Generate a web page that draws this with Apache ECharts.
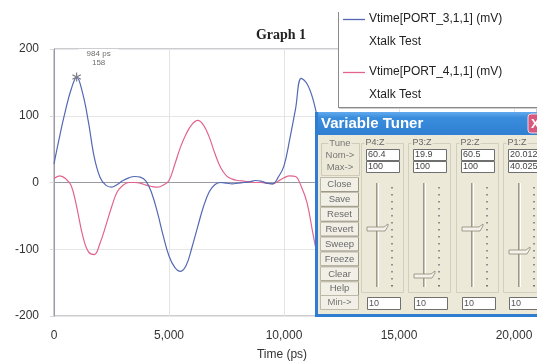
<!DOCTYPE html>
<html>
<head>
<meta charset="utf-8">
<script src="https://cdn.jsdelivr.net/npm/echarts@6/dist/echarts.min.js"></script>
<style>
  html, body { margin: 0; padding: 0; background: #fff; }
  #chart { width: 537px; height: 361px; }
</style>
</head>
<body>
<div id="chart"></div>
<script>
// Transient crosstalk waveforms (time in ps, voltage in mV)
const timePs = [0, 250, 500, 750, 984, 1250, 1500, 1750, 2000, 2250, 2500, 2750, 3000, 3250, 3500, 3750,
  4000, 4250, 4500, 4750, 5000, 5250, 5500, 5750, 6000, 6250, 6500, 6750, 7000, 7250, 7500, 7750,
  8000, 8250, 8500, 8750, 9000, 9250, 9500, 9750, 10000, 10250, 10500, 10750, 11000, 11250, 11500];
const port3 = [28, 70, 108, 140, 158, 133, 90, 38, 8, -4, -7, -3, 3, 7, 9, 8,
  2, -16, -45, -80, -110, -127, -133, -124, -97, -66, -36, -14, -3, 0, -1, -2,
  -1, 0, 1, 3, 2, -1, -2, 8, 25, 65, 110, 156, 148, 126, 88];
const port4 = [6, 10, 6, -5, -36, -80, -104, -108, -91, -65, -37, -14, -4, 0, 0, -1,
  -4, -6, -7, -4, 3, 27, 53, 73, 87, 93, 86, 68, 43, 22, 10, 5,
  3, 2, 1, 0, 0, -1, -2, 2, 7, 10, 9, -6, -30, -75, -120];

const seriesNames = ['Vtime[PORT_3,1,1] (mV)', 'Vtime[PORT_4,1,1] (mV)'];
const seriesSubtitle = 'Xtalk Test';
const seriesColors = ['#5468b4', '#e2648e'];
const markerIndex = 4; // sample carrying the cursor readout

// Variable Tuner panel contents
const tunerParams = ['P4:Z', 'P3:Z', 'P2:Z', 'P1:Z'];
const tunerNom = [60.4, 19.9, 60.5, 20.0125];
const tunerMax = [100, 100, 100, 40.025];
const tunerMin = [10, 10, 10, 10];
const tunerButtons = ['Close', 'Save', 'Reset', 'Revert', 'Sweep', 'Freeze', 'Clear', 'Help'];

const pairs = (ys) => timePs.map((t, i) => [t, ys[i]]);

const SANS = 'Liberation Sans, Arial, sans-serif';
const BODY = '#ece9d8';

// Star-shaped cursor symbol (three crossing bars)
const asterisk = 'path://M-0.6,-5L0.6,-5L0.6,5L-0.6,5Z' +
  'M4.03,3.02L4.63,1.98L-4.03,-3.02L-4.63,-1.98Z' +
  'M-4.63,1.98L-4.03,3.02L4.63,-1.98L4.03,-3.02Z';

// Stack a list of graphic elements above the plot, keeping their order
const layered = (els, base) => els.map((e, k) => Object.assign(e, { z: base, z2: k }));

function legendBox() {
  const els = [
    { type: 'rect', shape: { x: 338, y: 10, width: 220, height: 97 }, style: { fill: '#fff' } },
    { type: 'line', shape: { x1: 338.5, y1: 12, x2: 338.5, y2: 107 }, style: { stroke: '#8a8a8a', lineWidth: 1 } },
    { type: 'line', shape: { x1: 338, y1: 107.5, x2: 560, y2: 107.5 }, style: { stroke: '#8a8a8a', lineWidth: 1 } },
    { type: 'line', shape: { x1: 339, y1: 108.5, x2: 560, y2: 108.5 }, style: { stroke: '#cfcfcf', lineWidth: 1 } }
  ];
  seriesNames.forEach((name, i) => {
    const y0 = 19 + i * 53;
    els.push({ type: 'line', shape: { x1: 343, y1: y0 + 0.5, x2: 365, y2: y0 + 0.5 },
      style: { stroke: seriesColors[i], lineWidth: 1.3 } });
    els.push({ type: 'text', x: 369, y: y0, style: { text: name, font: '12px ' + SANS, fill: '#222', verticalAlign: 'middle' } });
    els.push({ type: 'text', x: 369, y: y0 + 23, style: { text: seriesSubtitle, font: '12px ' + SANS, fill: '#222', verticalAlign: 'middle' } });
  });
  return layered(els, 100);
}

function tunerWindow() {
  const els = [];
  const wx = 315, wy = 112, ww = 240, wh = 205;
  els.push({ type: 'rect', shape: { x: wx, y: wy, width: ww, height: wh }, style: { fill: BODY } });
  els.push({ type: 'rect', shape: { x: wx, y: wy, width: ww, height: 23 },
    style: { fill: new echarts.graphic.LinearGradient(0, 0, 0, 1, [
      { offset: 0, color: '#63aaee' }, { offset: 0.25, color: '#3a8ddc' }, { offset: 1, color: '#2f7fd2' }]) } });
  els.push({ type: 'rect', shape: { x: wx, y: wy, width: 3, height: wh }, style: { fill: '#2f7cd0' } });
  els.push({ type: 'rect', shape: { x: wx, y: wy + wh - 3, width: ww, height: 3 }, style: { fill: '#2f7cd0' } });
  els.push({ type: 'text', x: wx + 6, y: wy + 12, style: { text: 'Variable Tuner', font: 'bold 15px ' + SANS, fill: '#fff', verticalAlign: 'middle' } });
  els.push({ type: 'rect', shape: { x: 528, y: wy + 2, width: 20, height: 19, r: 3 }, style: { fill: '#d9587e', stroke: '#f2d6de', lineWidth: 1 } });
  els.push({ type: 'text', x: 531, y: wy + 12, style: { text: 'X', font: 'bold 13px ' + SANS, fill: '#fff', verticalAlign: 'middle' } });

  // Tune group
  els.push({ type: 'rect', shape: { x: 321.5, y: 143.5, width: 38, height: 32 }, style: { fill: 'none', stroke: '#cfcbb8', lineWidth: 1 } });
  els.push({ type: 'text', x: 340, y: 143, style: { text: 'Tune', font: '9.5px ' + SANS, fill: '#777', align: 'center', verticalAlign: 'middle', backgroundColor: BODY, padding: [0, 1] } });
  els.push({ type: 'text', x: 340, y: 155, style: { text: 'Nom->', font: '9.5px ' + SANS, fill: '#777', align: 'center', verticalAlign: 'middle' } });
  els.push({ type: 'text', x: 340, y: 167, style: { text: 'Max->', font: '9.5px ' + SANS, fill: '#777', align: 'center', verticalAlign: 'middle' } });

  // Command buttons
  tunerButtons.forEach((label, k) => {
    const by = 177 + k * 14.9;
    els.push({ type: 'rect', shape: { x: 320.5, y: by + 0.5, width: 38, height: 14 }, style: { fill: '#f1efe6', stroke: '#bdb9a8', lineWidth: 1 } });
    els.push({ type: 'polyline', shape: { points: [[321, by + 14.5], [358.5, by + 14.5], [358.5, by + 1]] }, style: { stroke: '#9a9686', lineWidth: 1, fill: 'none' } });
    els.push({ type: 'text', x: 339.5, y: by + 7.5, style: { text: label, font: '9.5px ' + SANS, fill: '#6a6a6a', align: 'center', verticalAlign: 'middle' } });
  });
  els.push({ type: 'rect', shape: { x: 320.5, y: 295.5, width: 38, height: 14 }, style: { fill: '#f1efe6', stroke: '#bdb9a8', lineWidth: 1 } });
  els.push({ type: 'text', x: 339.5, y: 302.5, style: { text: 'Min->', font: '9.5px ' + SANS, fill: '#777', align: 'center', verticalAlign: 'middle' } });

  // Parameter columns with sliders
  const trackTop = 183, trackBot = 287;
  tunerParams.forEach((name, i) => {
    const cx = Math.round(366 + i * 47.3);
    els.push({ type: 'rect', shape: { x: cx - 4.5, y: 143.5, width: 42, height: 149 }, style: { fill: 'none', stroke: '#d3cfbd', lineWidth: 1 } });
    els.push({ type: 'text', x: cx + 9, y: 143, style: { text: name, font: '9px ' + SANS, fill: '#666', align: 'center', verticalAlign: 'middle', backgroundColor: BODY, padding: [0, 1] } });
    [[149, tunerNom[i]], [161, tunerMax[i]]].forEach(([y, v]) => {
      els.push({ type: 'rect', shape: { x: cx + 0.5, y: y + 0.5, width: 33, height: 11 }, style: { fill: '#fff', stroke: '#6f6f6f', lineWidth: 1 } });
      els.push({ type: 'text', x: cx + 2, y: y + 6, style: { text: String(v), font: '9px ' + SANS, fill: '#444', verticalAlign: 'middle' } });
    });
    els.push({ type: 'rect', shape: { x: cx + 1.5, y: 297.5, width: 33, height: 12 }, style: { fill: '#fff', stroke: '#6f6f6f', lineWidth: 1 } });
    els.push({ type: 'text', x: cx + 3, y: 304, style: { text: String(tunerMin[i]), font: '9px ' + SANS, fill: '#555', verticalAlign: 'middle' } });

    const tx = cx + 11;
    els.push({ type: 'line', shape: { x1: tx - 0.5, y1: trackTop, x2: tx - 0.5, y2: trackBot }, style: { stroke: '#9d998a', lineWidth: 1 } });
    els.push({ type: 'line', shape: { x1: tx + 0.5, y1: trackTop, x2: tx + 0.5, y2: trackBot }, style: { stroke: '#c9c5b5', lineWidth: 1 } });
    els.push({ type: 'line', shape: { x1: tx + 1.5, y1: trackTop, x2: tx + 1.5, y2: trackBot }, style: { stroke: '#ffffff', lineWidth: 1 } });
    for (let k = 0; k < 15; k++) {
      els.push({ type: 'rect', shape: { x: tx + 14, y: 187 + k * 7, width: 2, height: 1.5 }, style: { fill: k === 14 ? '#777' : '#8e8e8e' } });
    }
    const frac = (tunerNom[i] - tunerMin[i]) / (tunerMax[i] - tunerMin[i]);
    const yc = Math.round(trackBot - frac * (trackBot - trackTop));
    els.push({ type: 'polygon', shape: { points: [[tx - 10, yc - 2], [tx + 7, yc - 2], [tx + 11, yc - 5], [tx + 11, yc - 3], [tx + 8, yc + 2], [tx - 10, yc + 2]] },
      style: { fill: '#f4f2ea', stroke: '#8c8878', lineWidth: 0.8 } });
  });
  return layered(els, 110);
}

const chart = echarts.init(document.getElementById('chart'), null, { renderer: 'canvas' });
chart.setOption({
  animation: false,
  backgroundColor: '#fff',
  grid: { left: 54, top: 49, right: 0, bottom: 45, show: true, borderColor: '#9a9aa2', borderWidth: 1, backgroundColor: 'transparent' },
  xAxis: {
    type: 'value', min: 0, max: 21000, interval: 5000,
    axisLine: { show: true, lineStyle: { color: '#9a9aa6' } },
    axisTick: { show: false },
    axisLabel: { color: '#333', fontSize: 12, fontFamily: SANS, margin: 14, showMaxLabel: false },
    splitLine: { show: true, lineStyle: { color: '#e3e3e3' } }
  },
  yAxis: {
    type: 'value', min: -200, max: 200, interval: 100,
    axisLine: { show: true, lineStyle: { color: '#9a9aa6' } },
    axisTick: { show: true, length: 4, lineStyle: { color: '#d8d8d8' } },
    axisLabel: { color: '#333', fontSize: 12, fontFamily: SANS, margin: 15 },
    splitLine: { show: true, lineStyle: { color: '#e6e6e6' } }
  },
  series: [
    {
      name: seriesNames[1], type: 'line', data: pairs(port4), smooth: 0.4, showSymbol: false,
      lineStyle: { color: seriesColors[1], width: 1.2 }, itemStyle: { color: seriesColors[1] }
    },
    {
      name: seriesNames[0], type: 'line', data: pairs(port3), smooth: 0.4, showSymbol: false,
      lineStyle: { color: seriesColors[0], width: 1.2 }, itemStyle: { color: seriesColors[0] },
      markPoint: {
        symbol: asterisk, symbolSize: 9, itemStyle: { color: '#7a7a88' },
        label: {
          show: true, position: 'inside', offset: [22, -19],
          formatter: (p) => p.data.coord[0] + ' ps\n' + p.data.coord[1],
          color: '#6e6e6e', fontSize: 8, fontFamily: SANS, lineHeight: 9, align: 'center',
          backgroundColor: '#fff', padding: [0, 8]
        },
        data: [{ coord: [timePs[markerIndex], port3[markerIndex]] }]
      }
    }
  ],
  graphic: [
    { type: 'text', x: 281, y: 35, z: 50, style: { text: 'Graph 1', font: 'bold 14px Liberation Serif, Times New Roman, serif', fill: '#222', align: 'center', verticalAlign: 'middle' } },
    { type: 'text', x: 282, y: 355, z: 50, style: { text: 'Time (ps)', font: '12px ' + SANS, fill: '#333', align: 'center', verticalAlign: 'middle' } }
  ].concat(legendBox(), tunerWindow())
});
</script>
</body>
</html>
